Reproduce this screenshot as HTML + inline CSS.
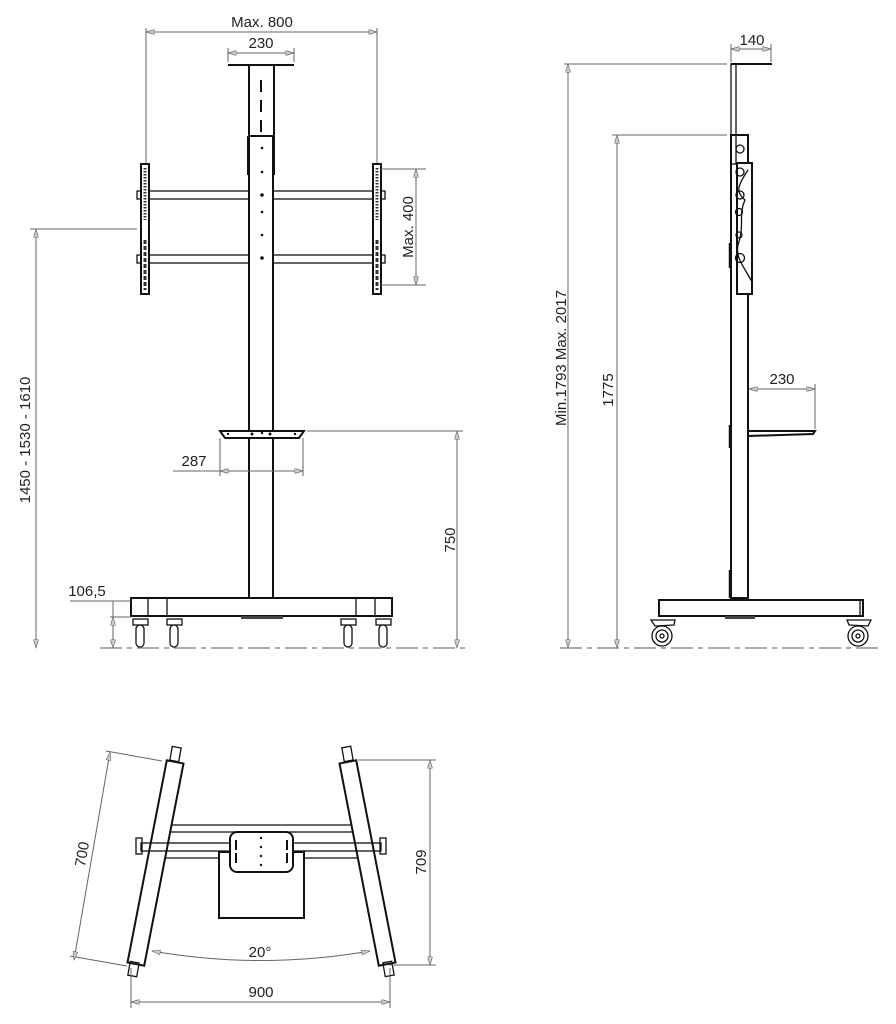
<!DOCTYPE html>
<html><head><meta charset="utf-8"><style>
html,body{margin:0;padding:0;background:#fff;}
svg{display:block;}
text{font-family:"Liberation Sans Narrow","Liberation Sans",sans-serif;font-size:15px;fill:#222;}
.d{stroke:#666;stroke-width:1;fill:none;}
.k{stroke:#111;stroke-width:2;fill:#fff;}
.t{stroke:#111;stroke-width:1.3;fill:none;}
.g{stroke:#777;stroke-width:1.2;fill:none;stroke-dasharray:22 5 5 5;}
</style></head><body>
<svg width="896" height="1024" viewBox="0 0 896 1024" xmlns="http://www.w3.org/2000/svg">
<defs>
<marker id="a" viewBox="0 0 10 6" refX="10" refY="3" markerWidth="9" markerHeight="5" orient="auto-start-reverse" markerUnits="userSpaceOnUse"><path d="M0,0 L10,3 L0,6 Z" fill="#ccc" stroke="#666" stroke-width="0.8"/></marker>
</defs>

<!-- ========== FRONT VIEW ========== -->
<line class="d" x1="146" y1="28" x2="146" y2="165"/>
<line class="d" x1="377" y1="28" x2="377" y2="165"/>
<line class="d" x1="146" y1="32" x2="377" y2="32" marker-start="url(#a)" marker-end="url(#a)"/>
<text x="262" y="27" text-anchor="middle">Max. 800</text>
<line class="d" x1="228" y1="48" x2="228" y2="62"/>
<line class="d" x1="294" y1="48" x2="294" y2="62"/>
<line class="d" x1="228" y1="53" x2="294" y2="53" marker-start="url(#a)" marker-end="url(#a)"/>
<text x="261" y="48" text-anchor="middle">230</text>
<line class="k" x1="228" y1="65" x2="294" y2="65"/>
<rect class="k" x="249" y="65" width="25" height="72"/>
<line x1="261" y1="80" x2="261" y2="135" stroke="#111" stroke-width="2" stroke-dasharray="12 8"/>
<rect class="t" x="149" y="191" width="224" height="8" fill="#fff"/>
<rect class="t" x="149" y="255" width="224" height="8" fill="#fff"/>
<rect class="k" x="249" y="136" width="24" height="462"/>
<line x1="248" y1="136" x2="248" y2="175" stroke="#111" stroke-width="2"/>
<line x1="274" y1="136" x2="274" y2="175" stroke="#111" stroke-width="2"/>
<g fill="#111"><circle cx="262" cy="148" r="1.3"/><circle cx="262" cy="172" r="1.3"/><circle cx="262" cy="195" r="1.8"/><circle cx="262" cy="212" r="1.3"/><circle cx="262" cy="235" r="1.3"/><circle cx="262" cy="258" r="1.8"/></g>
<rect class="k" x="141" y="164" width="8" height="130"/>
<rect class="k" x="373" y="164" width="8" height="130"/>
<line x1="145" y1="168" x2="145" y2="220" stroke="#333" stroke-width="3" stroke-dasharray="1.5 1.5"/>
<line x1="377" y1="168" x2="377" y2="220" stroke="#333" stroke-width="3" stroke-dasharray="1.5 1.5"/>
<line x1="145" y1="240" x2="145" y2="290" stroke="#333" stroke-width="3" stroke-dasharray="4 2"/>
<line x1="377" y1="240" x2="377" y2="290" stroke="#333" stroke-width="3" stroke-dasharray="4 2"/>
<rect class="t" x="137" y="191" width="4" height="8"/><rect class="t" x="381" y="191" width="4" height="8"/>
<rect class="t" x="137" y="255" width="4" height="8"/><rect class="t" x="381" y="255" width="4" height="8"/>
<line class="d" x1="381" y1="169" x2="426" y2="169"/>
<line class="d" x1="381" y1="285" x2="426" y2="285"/>
<line class="d" x1="416" y1="169" x2="416" y2="285" marker-start="url(#a)" marker-end="url(#a)"/>
<text transform="translate(413,227) rotate(-90)" text-anchor="middle">Max. 400</text>
<line class="d" x1="30" y1="229" x2="137" y2="229"/>
<line class="d" x1="36" y1="229" x2="36" y2="648" marker-start="url(#a)" marker-end="url(#a)"/>
<text transform="translate(30,440) rotate(-90)" text-anchor="middle">1450 - 1530 - 1610</text>
<path class="k" d="M220,431 L304,431 L299,438 L225,438 Z"/>
<g fill="#111"><circle cx="228" cy="434" r="1.2"/><circle cx="252" cy="434" r="1.5"/><circle cx="262" cy="433" r="1.2"/><circle cx="270" cy="434" r="1.5"/><circle cx="295" cy="434" r="1.2"/></g>
<line class="d" x1="220" y1="438" x2="220" y2="476"/>
<line class="d" x1="303" y1="438" x2="303" y2="476"/>
<line class="d" x1="173" y1="471" x2="220" y2="471"/>
<line class="d" x1="220" y1="471" x2="303" y2="471" marker-start="url(#a)" marker-end="url(#a)"/>
<text x="194" y="466" text-anchor="middle">287</text>
<line class="d" x1="307" y1="431" x2="463" y2="431"/>
<line class="d" x1="457" y1="431" x2="457" y2="648" marker-start="url(#a)" marker-end="url(#a)"/>
<text transform="translate(455,540) rotate(-90)" text-anchor="middle">750</text>
<rect class="k" x="131" y="598" width="261" height="18"/>
<line class="t" x1="148" y1="598" x2="148" y2="616"/><line class="t" x1="167" y1="598" x2="167" y2="616"/>
<line class="t" x1="356" y1="598" x2="356" y2="616"/><line class="t" x1="375" y1="598" x2="375" y2="616"/>
<rect x="241" y="616" width="42" height="3" fill="#444"/>
<g class="t" fill="#fff">
<rect x="133" y="619" width="15" height="6"/><rect x="136" y="625" width="8" height="22" rx="4" fill="#fff"/>
<rect x="167" y="619" width="15" height="6"/><rect x="170" y="625" width="8" height="22" rx="4" fill="#fff"/>
<rect x="341" y="619" width="15" height="6"/><rect x="344" y="625" width="8" height="22" rx="4" fill="#fff"/>
<rect x="376" y="619" width="15" height="6"/><rect x="379" y="625" width="8" height="22" rx="4" fill="#fff"/>
</g>
<line class="g" x1="100" y1="648" x2="470" y2="648"/>
<line class="d" x1="70" y1="601" x2="131" y2="601"/>
<line class="d" x1="110" y1="617" x2="131" y2="617"/>
<line class="d" x1="113" y1="601" x2="113" y2="648"/>
<line class="d" x1="113" y1="617" x2="113" y2="648" marker-start="url(#a)" marker-end="url(#a)"/>
<text x="87" y="596" text-anchor="middle">106,5</text>

<!-- ========== SIDE VIEW ========== -->
<line class="d" x1="731" y1="44" x2="731" y2="62"/>
<line class="d" x1="771" y1="44" x2="771" y2="62"/>
<line class="d" x1="731" y1="49" x2="771" y2="49" marker-start="url(#a)" marker-end="url(#a)"/>
<text x="752" y="45" text-anchor="middle">140</text>
<line class="k" x1="731" y1="64" x2="772" y2="64"/>
<line class="d" x1="564" y1="64" x2="727" y2="64"/>
<line class="d" x1="568" y1="64" x2="568" y2="648" marker-start="url(#a)" marker-end="url(#a)"/>
<text transform="translate(566,358) rotate(-90)" text-anchor="middle">Min.1793 Max. 2017</text>
<line class="d" x1="612" y1="135" x2="727" y2="135"/>
<line class="d" x1="617" y1="135" x2="617" y2="648" marker-start="url(#a)" marker-end="url(#a)"/>
<text transform="translate(613,390) rotate(-90)" text-anchor="middle">1775</text>
<rect class="k" x="731" y="135" width="17" height="463"/>
<rect class="k" x="737" y="163" width="15" height="131"/>
<rect class="t" x="731" y="64" width="5" height="100" fill="#fff" stroke-width="1.8"/>
<g class="t" fill="#fff"><circle cx="740" cy="149" r="4"/><circle cx="740" cy="172" r="4"/><circle cx="740" cy="195" r="4"/><circle cx="739" cy="212" r="3.5"/><circle cx="739" cy="235" r="3"/><circle cx="740" cy="258" r="4.5"/></g>
<path class="t" d="M748,170 C738,185 735,192 745,200 C738,215 745,225 738,245 C735,258 745,268 752,282"/>
<line x1="730" y1="243" x2="730" y2="268" stroke="#111" stroke-width="2.5"/>
<line x1="730" y1="425" x2="730" y2="448" stroke="#111" stroke-width="2.5"/>
<line x1="730" y1="570" x2="730" y2="598" stroke="#111" stroke-width="2.5"/>
<path class="k" d="M748,431 L815,431 L813,434 L748,436 Z" stroke-width="1.6"/>
<line class="d" x1="815" y1="384" x2="815" y2="429"/>
<line class="d" x1="749" y1="389" x2="815" y2="389" marker-start="url(#a)" marker-end="url(#a)"/>
<text x="782" y="384" text-anchor="middle">230</text>
<rect class="k" x="659" y="600" width="204" height="16"/>
<line class="t" x1="860" y1="600" x2="860" y2="616"/>
<rect x="725" y="616" width="30" height="3" fill="#444"/>
<g class="t" fill="#fff">
<path d="M651,620 L675,620 L674,625 L655,626 Z"/><circle cx="662" cy="636" r="10"/><circle cx="662" cy="636" r="6"/><circle cx="662" cy="636" r="2"/>
<path d="M847,620 L871,620 L868,626 L849,625 Z"/><circle cx="858" cy="636" r="10"/><circle cx="858" cy="636" r="6"/><circle cx="858" cy="636" r="2"/>
</g>
<line class="g" x1="560" y1="648" x2="880" y2="648"/>

<!-- ========== TOP VIEW ========== -->
<!-- bars (behind legs) -->
<line class="t" x1="165" y1="825" x2="358" y2="825"/>
<line class="t" x1="165" y1="832" x2="358" y2="832"/>
<line class="t" x1="160" y1="858" x2="220" y2="858"/>
<line class="t" x1="304" y1="858" x2="362" y2="858"/>
<!-- legs -->
<rect class="t" x="171" y="747" width="9" height="14" transform="rotate(10 175 754)" fill="#fff"/>
<rect class="k" x="147" y="760" width="17" height="206" transform="rotate(11 155.5 863)"/>
<rect class="t" x="129" y="962" width="9" height="14" transform="rotate(10 133 969)" fill="#fff"/>
<rect class="t" x="343" y="747" width="9" height="14" transform="rotate(-10 347 754)" fill="#fff"/>
<rect class="k" x="359" y="760" width="17" height="206" transform="rotate(-11 367.5 863)"/>
<rect class="t" x="384" y="962" width="9" height="14" transform="rotate(-10 388 969)" fill="#fff"/>
<rect class="t" x="141" y="843" width="240" height="8" fill="#fff"/>
<rect class="t" x="136" y="838" width="6" height="16" fill="#fff"/><rect class="t" x="380" y="838" width="6" height="16" fill="#fff"/>
<rect class="k" x="219" y="852" width="85" height="66" stroke-width="1.6"/>
<rect class="k" x="230" y="832" width="63" height="40" rx="7" stroke-width="1.6"/>
<line x1="236" y1="840" x2="236" y2="866" stroke="#111" stroke-width="2" stroke-dasharray="10 3"/>
<line x1="287" y1="840" x2="287" y2="866" stroke="#111" stroke-width="2" stroke-dasharray="10 3"/>
<g fill="#111"><circle cx="261" cy="838" r="1.2"/><circle cx="261" cy="847" r="1.2"/><circle cx="261" cy="856" r="1.2"/><circle cx="261" cy="865" r="1.2"/></g>
<!-- 700 -->
<line class="d" x1="106" y1="751" x2="162" y2="761"/>
<line class="d" x1="70" y1="956" x2="127" y2="966"/>
<line class="d" x1="110" y1="752" x2="74" y2="960" marker-start="url(#a)" marker-end="url(#a)"/>
<text transform="translate(87,855) rotate(-80)" text-anchor="middle">700</text>
<!-- 709 -->
<line class="d" x1="358" y1="760" x2="436" y2="760"/>
<line class="d" x1="389" y1="965" x2="436" y2="965"/>
<line class="d" x1="430" y1="760" x2="430" y2="965" marker-start="url(#a)" marker-end="url(#a)"/>
<text transform="translate(426,862) rotate(-90)" text-anchor="middle">709</text>
<!-- 20° -->
<path class="d" d="M152,951 Q261,970 370,951" marker-start="url(#a)" marker-end="url(#a)"/>
<text x="260" y="957" text-anchor="middle">20°</text>
<!-- 900 -->
<line class="d" x1="131" y1="968" x2="131" y2="1008"/>
<line class="d" x1="390" y1="968" x2="390" y2="1008"/>
<line class="d" x1="131" y1="1002" x2="390" y2="1002" marker-start="url(#a)" marker-end="url(#a)"/>
<text x="261" y="997" text-anchor="middle">900</text>
</svg>
</body></html>
